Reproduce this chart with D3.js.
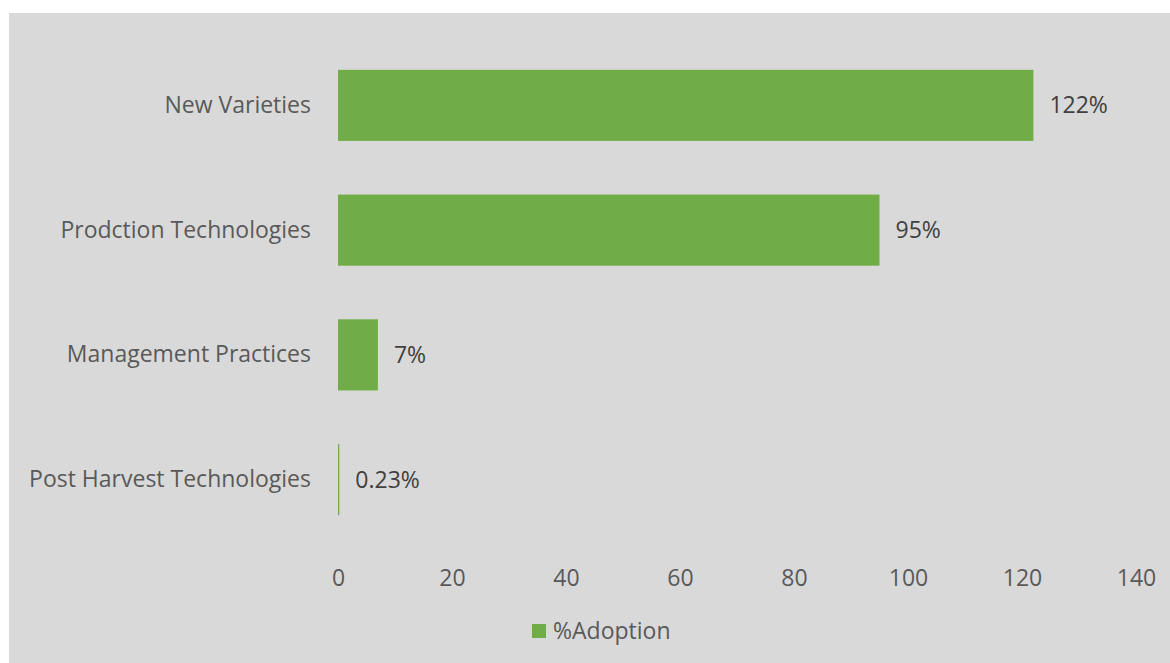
<!DOCTYPE html>
<html>
<head>
<meta charset="utf-8">
<script src="https://cdn.jsdelivr.net/npm/d3@7"></script>
<style>
  html, body { margin: 0; padding: 0; background: #ffffff; }
  svg { display: block; }
  text { font-family: "Open Sans", sans-serif; }
</style>
</head>
<body>
<svg id="chart" width="1170" height="663"></svg>
<script>
// Adoption rate per technology category
const categories = ["New Varieties", "Prodction Technologies", "Management Practices", "Post Harvest Technologies"];
const adoption = [122, 95, 7, 0.23];
const valueLabels = ["122%", "95%", "7%", "0.23%"];
const xTicks = [0, 20, 40, 60, 80, 100, 120, 140];
const seriesName = "%Adoption";

const W = 1170, H = 663;
const FS = 23;
const svg = d3.select("#chart");

// chart area background
svg.append("rect")
  .attr("x", 9).attr("y", 13)
  .attr("width", W - 9).attr("height", H - 13)
  .attr("fill", "#d9d9d9");

const x = d3.scaleLinear().domain([0, 140]).range([338, 1136]);
const y = d3.scaleBand().domain(categories).range([43, 542]).paddingInner(0.43).paddingOuter(0.215);

const green = "#70ad47";

// bars
svg.append("g").selectAll("rect")
  .data(categories)
  .join("rect")
  .attr("x", x(0))
  .attr("y", d => y(d))
  .attr("width", (d, i) => x(adoption[i]) - x(0))
  .attr("height", y.bandwidth())
  .attr("fill", green);

// value labels
svg.append("g").selectAll("text")
  .data(categories)
  .join("text")
  .attr("x", (d, i) => x(adoption[i]) + 16)
  .attr("y", d => y(d) + y.bandwidth() / 2)
  .attr("dy", "0.35em")
  .attr("font-size", FS)
  .attr("fill", "#404040")
  .text((d, i) => valueLabels[i]);

// category axis (no line, no ticks)
const yAxis = svg.append("g")
  .attr("transform", `translate(${x(0)},0)`)
  .call(d3.axisLeft(y).tickSize(0).tickPadding(27));
yAxis.select(".domain").remove();
yAxis.selectAll("text")
  .attr("font-size", FS)
  .attr("fill", "#595959")
  .attr("font-family", "'Open Sans', sans-serif");

// value axis (labels only)
const xAxis = svg.append("g")
  .attr("transform", "translate(0,566)")
  .call(d3.axisBottom(x).tickValues(xTicks).tickSize(0).tickPadding(0));
xAxis.select(".domain").remove();
xAxis.selectAll("text")
  .attr("font-size", FS)
  .attr("fill", "#595959")
  .attr("dy", "0.35em")
  .attr("y", 12)
  .attr("font-family", "'Open Sans', sans-serif");

// legend
const legend = svg.append("g");
legend.append("rect")
  .attr("x", 532).attr("y", 624)
  .attr("width", 14).attr("height", 14)
  .attr("fill", green);
legend.append("text")
  .attr("x", 553).attr("y", 631)
  .attr("dy", "0.35em")
  .attr("font-size", FS)
  .attr("fill", "#595959")
  .text(seriesName);
</script>
</body>
</html>
